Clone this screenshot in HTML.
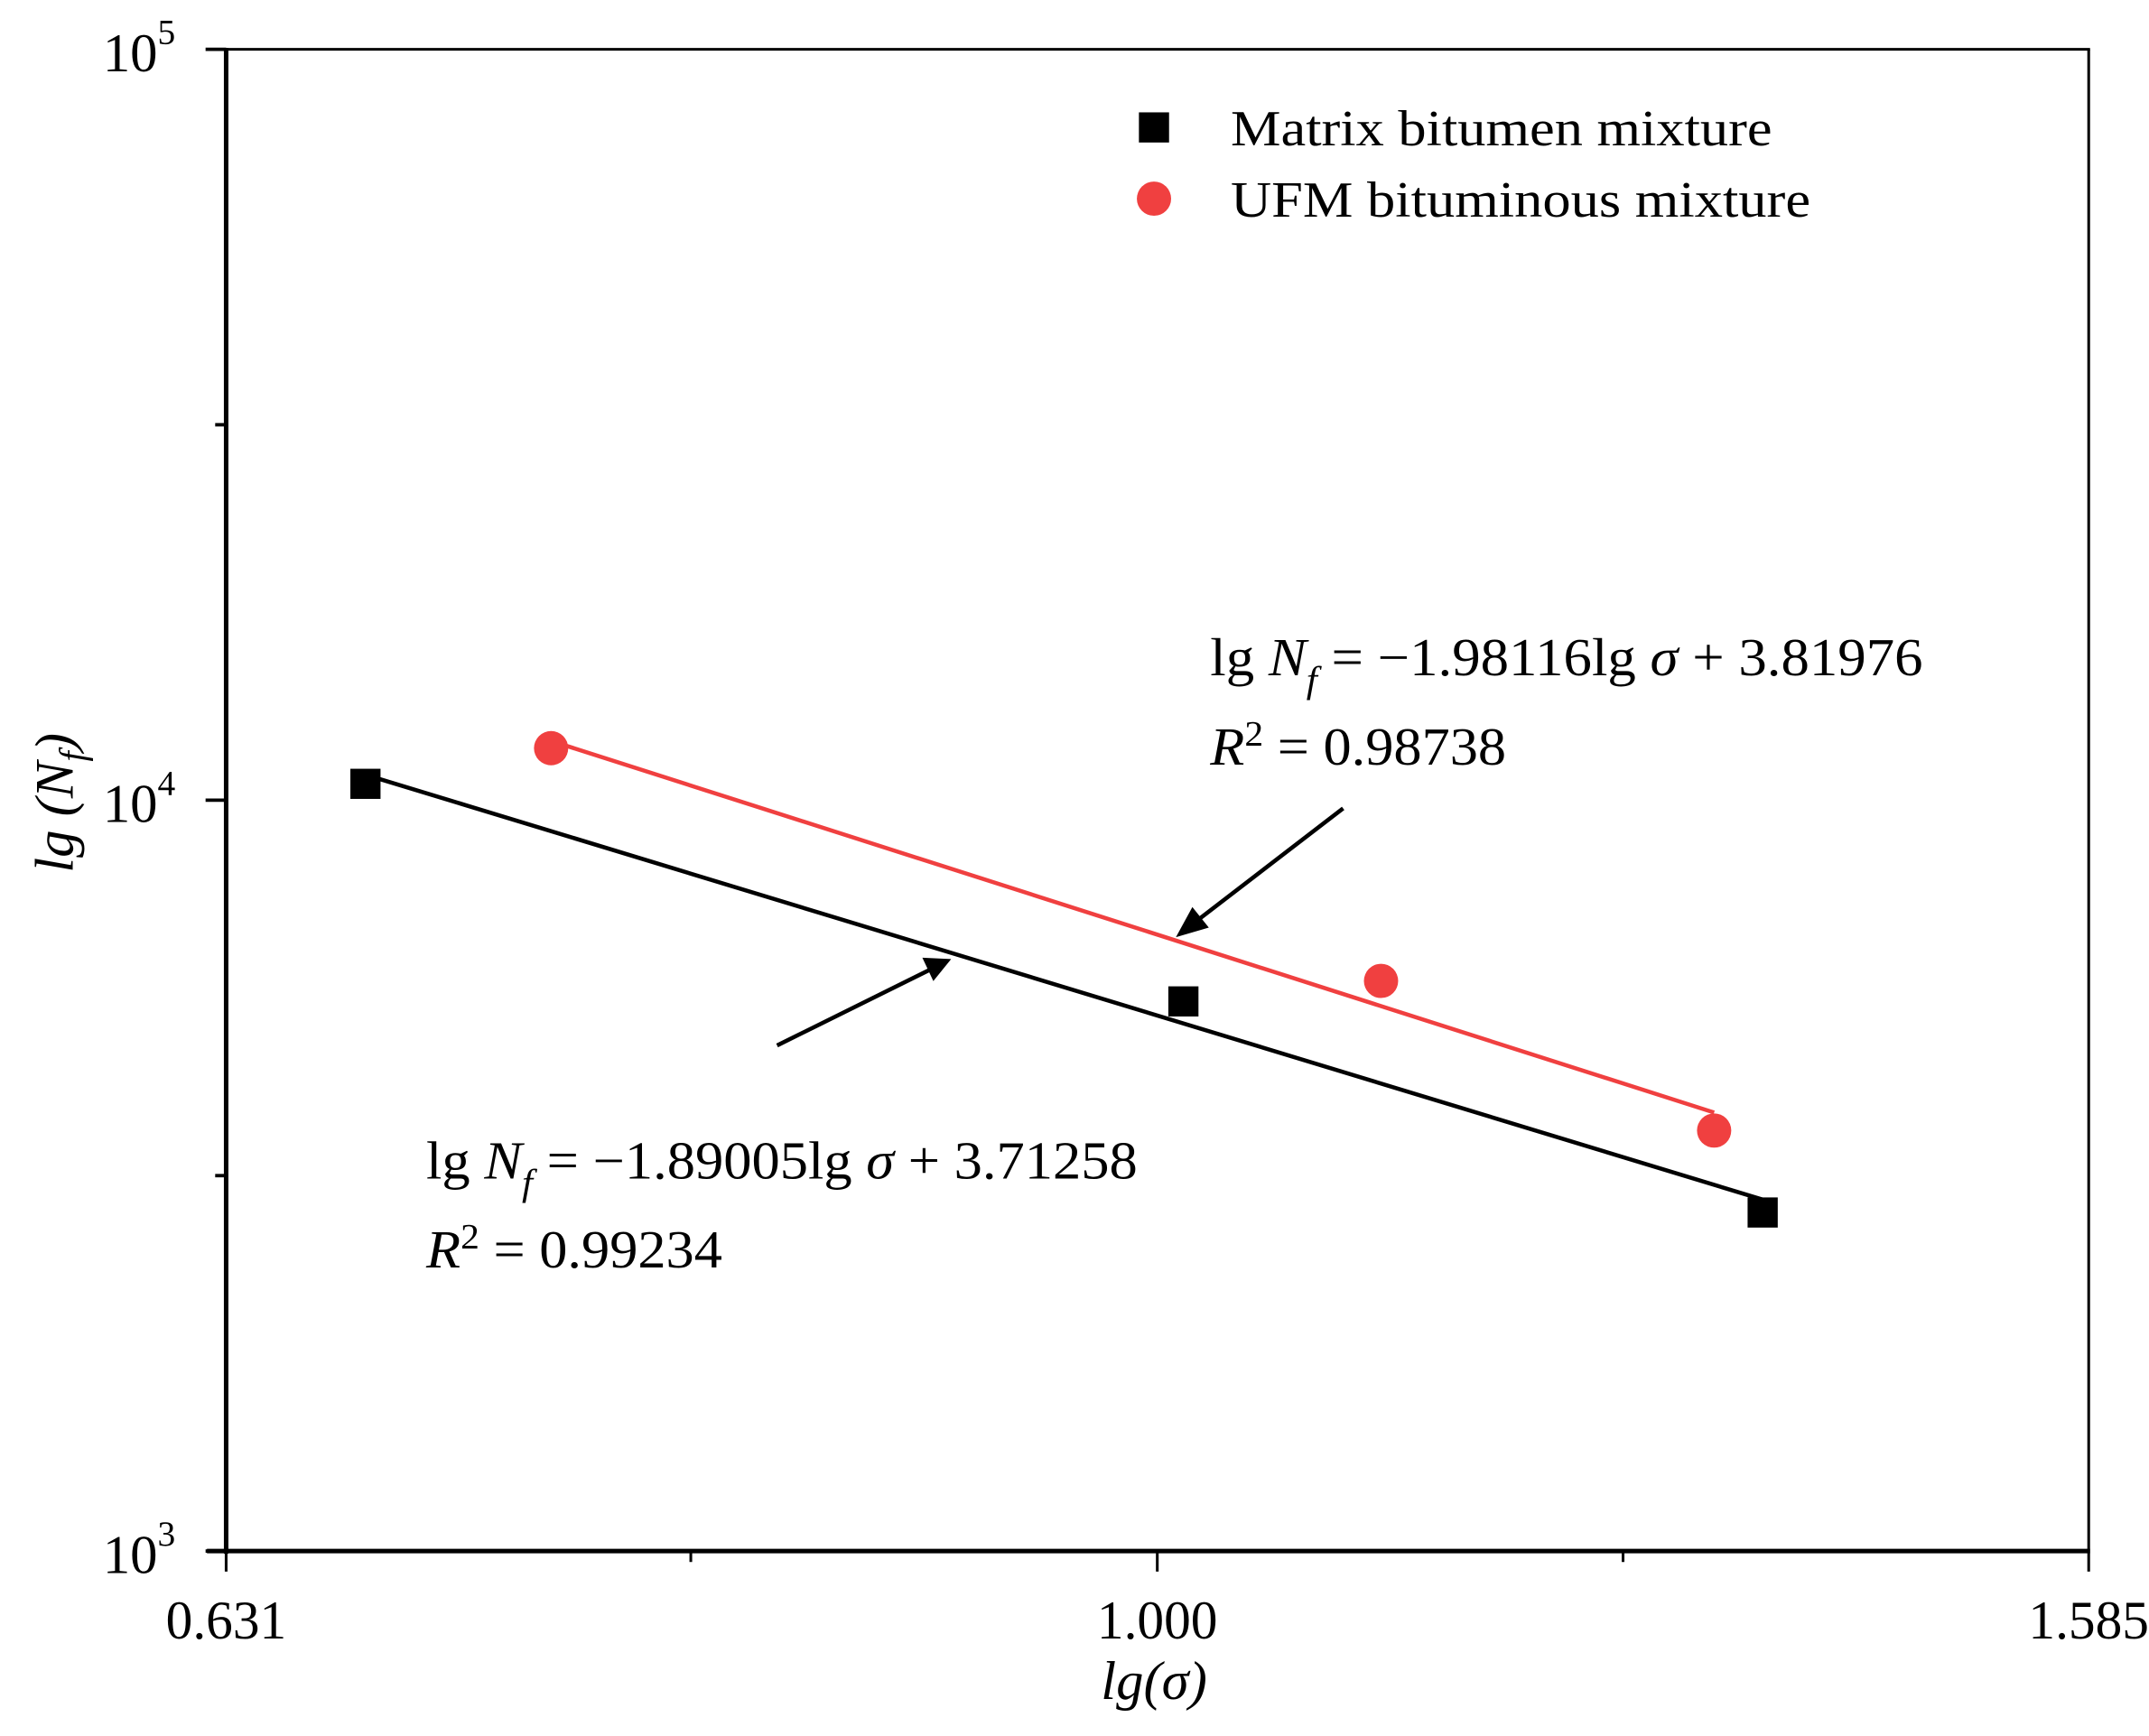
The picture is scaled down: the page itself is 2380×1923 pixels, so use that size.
<!DOCTYPE html>
<html><head><meta charset="utf-8"><style>
html,body{margin:0;padding:0;background:#fff;}
svg{display:block;}
text{font-family:"Liberation Serif",serif;fill:#000;}
</style></head><body>
<svg id="chart" width="2380" height="1923" viewBox="0 0 1568 1267" preserveAspectRatio="none" xmlns="http://www.w3.org/2000/svg">
<rect width="1568" height="1267" fill="#fff"/>
<g id="axes"></g>
<g id="marks"></g>
<g>
  <rect x="831" y="82" width="22" height="22" fill="#000"/>
  <text x="898" y="106" font-size="37" textLength="395" lengthAdjust="spacingAndGlyphs">Matrix bitumen mixture</text>
  <circle cx="842" cy="145" r="12.5" fill="#f04040"/>
  <text x="898" y="158" font-size="37" textLength="423" lengthAdjust="spacingAndGlyphs">UFM bituminous mixture</text>
</g>
<g>
  <text x="883" y="493" font-size="39" textLength="520" lengthAdjust="spacingAndGlyphs">lg <tspan font-style="italic">N</tspan><tspan font-style="italic" font-size="27" dy="12">f</tspan><tspan dy="-12"> = −1.98116lg </tspan><tspan font-style="italic">σ</tspan> + 3.81976</text>
  <text x="883" y="558" font-size="39" textLength="216" lengthAdjust="spacingAndGlyphs"><tspan font-style="italic">R</tspan><tspan font-size="26" dy="-14">2</tspan><tspan dy="14"> = 0.98738</tspan></text>
</g>
<g>
  <text x="311" y="860" font-size="39" textLength="519" lengthAdjust="spacingAndGlyphs">lg <tspan font-style="italic">N</tspan><tspan font-style="italic" font-size="27" dy="12">f</tspan><tspan dy="-12"> = −1.89005lg </tspan><tspan font-style="italic">σ</tspan> + 3.71258</text>
  <text x="311" y="925" font-size="39" textLength="216" lengthAdjust="spacingAndGlyphs"><tspan font-style="italic">R</tspan><tspan font-size="26" dy="-14">2</tspan><tspan dy="14"> = 0.99234</tspan></text>
</g>
<g>
  <line x1="980" y1="590" x2="872" y2="673" stroke="#000" stroke-width="3"/>
  <polygon points="858,684 870,662 882,677" fill="#000"/>
  <line x1="567" y1="763" x2="678" y2="708" stroke="#000" stroke-width="3"/>
  <polygon points="694,700 673,699 681,716" fill="#000"/>
</g>
</svg>
<script>
const xTickValues = [0.631, 1.000, 1.585];
const xTickLabels = ["0.631", "1.000", "1.585"];
const xMinorTicks = [0.794, 1.259];
const yTickValues = [1000, 10000, 100000];
const yTickExp = ["3", "4", "5"];
const yMinorTicks = [3162, 31623];
const matrixSigma = [0.676, 1.013, 1.349];
const matrixN = [10514, 5395, 2824];
const ufmSigma = [0.741, 1.117, 1.317];
const ufmN = [11730, 5745, 3631];

const NS = "http://www.w3.org/2000/svg";
const L = 165, R = 1524, T = 36, B = 1132;
const lxMin = Math.log10(0.631), lxMax = Math.log10(1.585);
function xs(v){ return L + (Math.log10(v) - lxMin) / (lxMax - lxMin) * (R - L); }
function ys(v){ return B - (Math.log10(v) - 3) / 2 * (B - T); }
function mk(tag, attrs, parent){ const e = document.createElementNS(NS, tag); for (const k in attrs) e.setAttribute(k, attrs[k]); parent.appendChild(e); return e; }

const axes = document.getElementById('axes');
const marks = document.getElementById('marks');
let e;
e = mk('line', {x1:R, y1:T, x2:R, y2:B, stroke:'#000', 'stroke-width':2}, axes);


e = mk('line', {x1:L-2, y1:T, x2:R+1, y2:T, stroke:'#000', 'stroke-width':2}, axes);


e = mk('line', {x1:L, y1:T-1, x2:L, y2:B+2, stroke:'#000', 'stroke-width':3.3}, axes);


e = mk('line', {x1:L-14, y1:B, x2:R+1, y2:B, stroke:'#000', 'stroke-width':3.3}, axes);



xTickValues.forEach((v, i) => {
  const x = xs(v);
  let t = mk('line', {x1:x, y1:B, x2:x, y2:B+15, stroke:'#000', 'stroke-width':2}, axes);
  
  
  let lb = mk('text', {x:x, y:1196, 'font-size':40, 'text-anchor':'middle', textLength:88, lengthAdjust:'spacingAndGlyphs'}, axes);
  lb.textContent = xTickLabels[i];
  
  
});
xMinorTicks.forEach(v => {
  const x = xs(v);
  let t = mk('line', {x1:x, y1:B, x2:x, y2:B+8, stroke:'#000', 'stroke-width':2}, axes);
  
  
});
yTickValues.forEach((v, i) => {
  const y = ys(v);
  let t = mk('line', {x1:L-15, y1:y, x2:L, y2:y, stroke:'#000', 'stroke-width':2.5}, axes);
  
  
  let lb = mk('text', {x:128, y:y+16, 'font-size':40, 'text-anchor':'end'}, axes);
  
  
  const a = document.createElementNS(NS, 'tspan'); a.textContent = '10'; lb.appendChild(a);
  const b = document.createElementNS(NS, 'tspan'); b.setAttribute('font-size', 26); b.setAttribute('dy', -20); b.textContent = yTickExp[i]; lb.appendChild(b);
});
yMinorTicks.forEach(v => {
  const y = ys(v);
  let t = mk('line', {x1:L-8, y1:y, x2:L, y2:y, stroke:'#000', 'stroke-width':2.5}, axes);
  
  
});
let xt = mk('text', {x:842, y:1240, 'font-size':40, 'text-anchor':'middle', 'font-style':'italic'}, axes);
xt.textContent = 'lg(σ)';


let yt = mk('text', {x:0, y:0, 'font-size':40, 'text-anchor':'middle', 'font-style':'italic', transform:'translate(53,586) rotate(-90)'}, axes);


yt.innerHTML = 'lg (N<tspan font-size="27" dy="9">f</tspan><tspan dy="-9">)</tspan>';

function fit(xsArr, ysArr){
  const X = xsArr.map(Math.log10), Y = ysArr.map(Math.log10);
  const mx = X.reduce((a,b)=>a+b)/X.length, my = Y.reduce((a,b)=>a+b)/Y.length;
  let sxy = 0, sxx = 0;
  X.forEach((x,i)=>{ sxy += (x-mx)*(Y[i]-my); sxx += (x-mx)*(x-mx); });
  const k = sxy/sxx; return {k:k, b:my - k*mx, x0:Math.min(...X), x1:Math.max(...X)};
}
function drawFit(sig, n, color, name){
  const f = fit(sig, n);
  const p0 = Math.pow(10, f.x0), p1 = Math.pow(10, f.x1);
  let ln = mk('line', {x1:xs(p0), y1:ys(Math.pow(10, f.k*f.x0+f.b)), x2:xs(p1), y2:ys(Math.pow(10, f.k*f.x1+f.b)), stroke:color, 'stroke-width':3}, marks);
  
  
}
drawFit(matrixSigma, matrixN, '#000', 'matrix-fit-line');
drawFit(ufmSigma, ufmN, '#f04040', 'ufm-fit-line');
matrixSigma.forEach((s, i) => {
  let r = mk('rect', {x:xs(s)-11, y:ys(matrixN[i])-11, width:22, height:22, fill:'#000'}, marks);
  
  
});
ufmSigma.forEach((s, i) => {
  let c = mk('circle', {cx:xs(s), cy:ys(ufmN[i]), r:12.5, fill:'#f04040'}, marks);
  
  
});
</script>
</body></html>
